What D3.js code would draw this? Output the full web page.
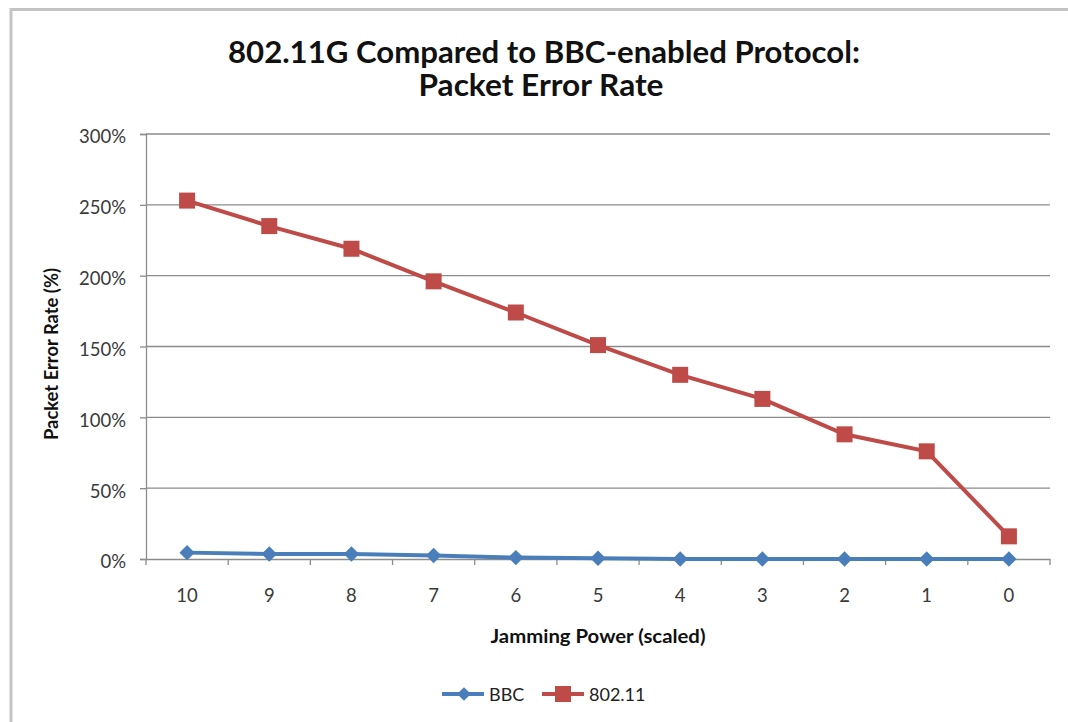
<!DOCTYPE html>
<html><head><meta charset="utf-8">
<script src="https://cdn.jsdelivr.net/npm/d3@7"></script>
<style>body{margin:0;background:#fff;} svg{display:block;}</style>
</head><body>
<svg id="c" width="1068" height="722"></svg>
<script>
const categories = ["10","9","8","7","6","5","4","3","2","1","0"];
const bbc = [4.5, 3.5, 3.5, 2.5, 1, 0.5, 0, 0, 0, 0, 0];
const wifi = [253, 235, 219, 196, 174, 151, 130, 113, 88, 76, 16];
const yTicks = [0, 50, 100, 150, 200, 250, 300];
const seriesNames = ["BBC", "802.11"];
const seriesColors = ["#4A7EBB", "#BE4B48"];

const svg = d3.select("#c");
const font = "Lato, 'Open Sans', sans-serif";
const L = 146, R = 1050, T = 134, B = 559;

// outer border
svg.append("path").attr("d", "M11,722 V9.5 H1068").attr("fill","none").attr("stroke","#c4c4c4").attr("stroke-width",3);

const x = d3.scaleBand().domain(categories).range([L, R]);
const y = d3.scaleLinear().domain([0, 300]).range([B, T]);

// gridlines
svg.append("g").selectAll("line").data(yTicks.filter(d => d > 0)).join("line")
  .attr("x1", L).attr("x2", R).attr("y1", d => y(d)).attr("y2", d => y(d))
  .attr("stroke", "#8c8c8c").attr("stroke-width", 1.3);

// y axis
const ya = svg.append("g").attr("transform", `translate(${L},0)`)
  .call(d3.axisLeft(y).tickValues(yTicks).tickFormat(d => d + "%").tickSize(6).tickPadding(14));
ya.select(".domain").attr("stroke", "#8c8c8c").attr("stroke-width", 1.3);
ya.selectAll(".tick line").attr("stroke", "#8c8c8c").attr("stroke-width", 1.3);
ya.selectAll("text").attr("font-family", font).attr("font-size", 18.5).attr("fill", "#3a3a3a").attr("dy", "0.48em");

// x axis
const xa = svg.append("g").attr("transform", `translate(0,${B})`)
  .call(d3.axisBottom(x).tickSize(0).tickPadding(30));
xa.select(".domain").attr("stroke", "#8c8c8c").attr("stroke-width", 1.3);
xa.selectAll("text").attr("font-family", font).attr("font-size", 18.5).attr("fill", "#3a3a3a");
// category separator ticks
xa.append("g").selectAll("line").data(d3.range(categories.length + 1)).join("line")
  .attr("x1", i => L + i * x.step()).attr("x2", i => L + i * x.step())
  .attr("y1", 0).attr("y2", 6).attr("stroke", "#8c8c8c").attr("stroke-width", 1.3);

const cx = c => x(c) + x.bandwidth() / 2;
const line = d3.line().x((d, i) => cx(categories[i])).y(d => y(d));

// BBC
svg.append("path").datum(bbc).attr("d", line).attr("fill", "none")
  .attr("stroke", seriesColors[0]).attr("stroke-width", 4);
svg.append("g").selectAll("path").data(bbc).join("path")
  .attr("d", d3.symbol(d3.symbolDiamond2, 150))
  .attr("transform", (d, i) => `translate(${cx(categories[i])},${y(d)})`)
  .attr("fill", seriesColors[0]);

// 802.11
svg.append("path").datum(wifi).attr("d", line).attr("fill", "none")
  .attr("stroke", seriesColors[1]).attr("stroke-width", 4);
svg.append("g").selectAll("rect").data(wifi).join("rect")
  .attr("x", (d, i) => cx(categories[i]) - 8).attr("y", d => y(d) - 8)
  .attr("width", 16).attr("height", 16).attr("fill", seriesColors[1]);

// title
const title = svg.append("text").attr("text-anchor", "middle").attr("font-family", font)
  .attr("font-weight", "bold").attr("font-size", 29.5).attr("fill", "#111");
title.append("tspan").attr("x", 544).attr("y", 63).attr("textLength", 632).attr("lengthAdjust", "spacingAndGlyphs")
  .text("802.11G Compared to BBC-enabled Protocol:");
title.append("tspan").attr("x", 541).attr("y", 96).attr("textLength", 245).attr("lengthAdjust", "spacingAndGlyphs")
  .text("Packet Error Rate");

// axis titles
svg.append("text").attr("x", 598).attr("y", 643).attr("text-anchor", "middle")
  .attr("font-family", font).attr("font-weight", "bold").attr("font-size", 19).attr("fill", "#111")
  .attr("textLength", 215).attr("lengthAdjust", "spacingAndGlyphs")
  .text("Jamming Power (scaled)");
svg.append("text").attr("transform", "translate(58,354) rotate(-90)").attr("text-anchor", "middle")
  .attr("font-family", font).attr("font-weight", "bold").attr("font-size", 18).attr("fill", "#111")
  .attr("textLength", 172).attr("lengthAdjust", "spacingAndGlyphs")
  .text("Packet Error Rate (%)");

// legend
const legend = svg.append("g");
const lx = [442, 542];
seriesNames.forEach((n, i) => {
  const g = legend.append("g").attr("transform", `translate(${lx[i]},694)`);
  g.append("line").attr("x1", 0).attr("x2", 42).attr("y1", 0).attr("y2", 0)
    .attr("stroke", seriesColors[i]).attr("stroke-width", 4);
  if (i === 0) g.append("path").attr("d", d3.symbol(d3.symbolDiamond2, 120)).attr("transform", "translate(22,0)").attr("fill", seriesColors[i]);
  else g.append("rect").attr("x", 13).attr("y", -8).attr("width", 16).attr("height", 16).attr("fill", seriesColors[i]);
  g.append("text").attr("x", 47).attr("y", 6.5).attr("font-family", font).attr("font-size", 18).attr("fill", "#222").text(n);
});
</script>
</body></html>
